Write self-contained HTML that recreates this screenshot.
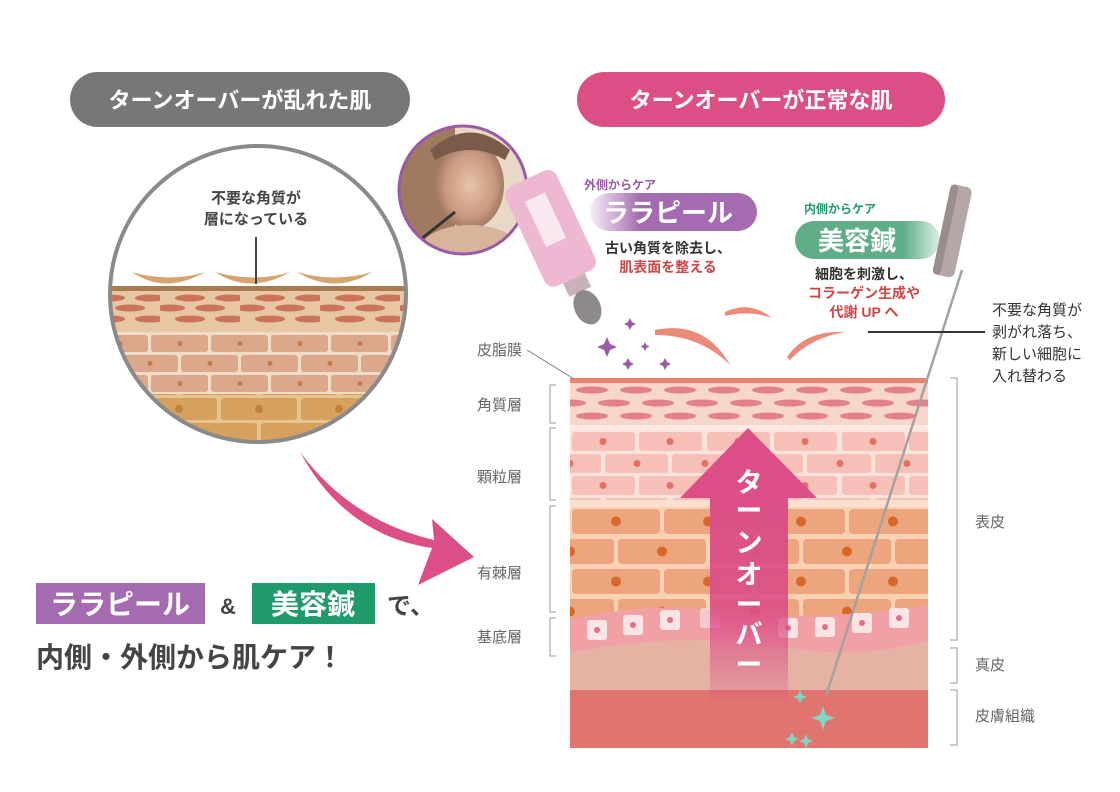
<!DOCTYPE html>
<html><head><meta charset="utf-8"><style>
html,body{margin:0;padding:0;background:#fff;}
svg{display:block;font-family:"Liberation Sans","Noto Sans CJK JP",sans-serif;}
</style></head><body>
<svg width="1120" height="792" viewBox="0 0 1120 792" xmlns="http://www.w3.org/2000/svg">
<defs>
  <!-- left circle patterns -->
  <pattern id="lEll" x="0" y="290" width="80" height="40" patternUnits="userSpaceOnUse">
    <rect width="80" height="40" fill="#e8c6a4"/>
    <ellipse cx="30" cy="8" rx="15" ry="3.5" fill="#c9745a"/>
    <ellipse cx="70" cy="8" rx="15" ry="3.5" fill="#c9745a"/>
    <ellipse cx="10" cy="18" rx="15" ry="3.5" fill="#c9745a"/>
    <ellipse cx="50" cy="18" rx="15" ry="3.5" fill="#c9745a"/>
    <ellipse cx="30" cy="29" rx="15" ry="3.5" fill="#c9745a"/>
    <ellipse cx="70" cy="29" rx="15" ry="3.5" fill="#c9745a"/>
  </pattern>
  <pattern id="lBrick" x="30" y="334" width="120" height="40" patternUnits="userSpaceOnUse">
    <rect width="120" height="40" fill="#f0dcc6"/>
    <rect x="1" y="1" width="57" height="17" rx="3" fill="#dba88c"/>
    <rect x="61" y="1" width="57" height="17" rx="3" fill="#dba88c"/>
    <rect x="-29" y="21" width="57" height="17" rx="3" fill="#dba88c"/>
    <rect x="31" y="21" width="57" height="17" rx="3" fill="#dba88c"/>
    <rect x="91" y="21" width="57" height="17" rx="3" fill="#dba88c"/>
    <circle cx="30" cy="9.5" r="2.5" fill="#c77a4a"/><circle cx="90" cy="9.5" r="2.5" fill="#c77a4a"/>
    <circle cx="0" cy="29.5" r="2.5" fill="#c77a4a"/><circle cx="60" cy="29.5" r="2.5" fill="#c77a4a"/><circle cx="120" cy="29.5" r="2.5" fill="#c77a4a"/>
  </pattern>
  <pattern id="lBrick2" x="60" y="396" width="160" height="50" patternUnits="userSpaceOnUse">
    <rect width="160" height="50" fill="#e6c48e"/>
    <rect x="1" y="2" width="76" height="22" rx="3" fill="#d6a05e"/>
    <rect x="81" y="2" width="76" height="22" rx="3" fill="#d6a05e"/>
    <rect x="-39" y="27" width="76" height="22" rx="3" fill="#d6a05e"/>
    <rect x="41" y="27" width="76" height="22" rx="3" fill="#d6a05e"/>
    <rect x="121" y="27" width="76" height="22" rx="3" fill="#d6a05e"/>
    <circle cx="39" cy="13" r="4" fill="#c0803a"/><circle cx="119" cy="13" r="4" fill="#c0803a"/>
  </pattern>
  <clipPath id="cc"><circle cx="258" cy="294" r="148"/></clipPath>

  <!-- right skin patterns -->
  <pattern id="rEll" x="570" y="383" width="88" height="42" patternUnits="userSpaceOnUse">
    <rect width="88" height="42" fill="#f7d6cc"/>
    <ellipse cx="22" cy="7" rx="16" ry="3.5" fill="#e4808a"/>
    <ellipse cx="66" cy="7" rx="16" ry="3.5" fill="#e4808a"/>
    <ellipse cx="0" cy="20" rx="16" ry="3.5" fill="#e4808a"/>
    <ellipse cx="44" cy="20" rx="16" ry="3.5" fill="#e4808a"/>
    <ellipse cx="88" cy="20" rx="16" ry="3.5" fill="#e4808a"/>
    <ellipse cx="22" cy="33" rx="16" ry="3.5" fill="#e4808a"/>
    <ellipse cx="66" cy="33" rx="16" ry="3.5" fill="#e4808a"/>
  </pattern>
  <pattern id="rGran" x="570" y="430" width="135" height="44" patternUnits="userSpaceOnUse">
    <rect width="135" height="44" fill="#fbe3dd"/>
    <rect x="2" y="2" width="63" height="19" rx="3" fill="#f6c0b8"/>
    <rect x="69" y="2" width="63" height="19" rx="3" fill="#f6c0b8"/>
    <rect x="-32" y="24" width="63" height="19" rx="3" fill="#f6c0b8"/>
    <rect x="35" y="24" width="63" height="19" rx="3" fill="#f6c0b8"/>
    <rect x="102" y="24" width="63" height="19" rx="3" fill="#f6c0b8"/>
    <circle cx="33" cy="11.5" r="3.5" fill="#e07366"/><circle cx="100" cy="11.5" r="3.5" fill="#e07366"/>
    <circle cx="0" cy="33.5" r="3.5" fill="#e07366"/><circle cx="67" cy="33.5" r="3.5" fill="#e07366"/><circle cx="135" cy="33.5" r="3.5" fill="#e07366"/>
  </pattern>
  <pattern id="rSpin" x="570" y="507" width="185" height="60" patternUnits="userSpaceOnUse">
    <rect width="185" height="60" fill="#f9d2b4"/>
    <rect x="2" y="2" width="88" height="25" rx="4" fill="#eda57e"/>
    <rect x="94" y="2" width="88" height="25" rx="4" fill="#eda57e"/>
    <rect x="-44" y="32" width="88" height="25" rx="4" fill="#eda57e"/>
    <rect x="48" y="32" width="88" height="25" rx="4" fill="#eda57e"/>
    <rect x="140" y="32" width="88" height="25" rx="4" fill="#eda57e"/>
    <circle cx="46" cy="14.5" r="5" fill="#d8672c"/><circle cx="138" cy="14.5" r="5" fill="#d8672c"/>
    <circle cx="0" cy="44.5" r="5" fill="#d8672c"/><circle cx="92" cy="44.5" r="5" fill="#d8672c"/><circle cx="185" cy="44.5" r="5" fill="#d8672c"/>
  </pattern>
  <clipPath id="skin"><rect x="570" y="378" width="358" height="370"/></clipPath>
  <linearGradient id="shaft" x1="0" y1="0" x2="0" y2="1">
    <stop offset="0" stop-color="#db4f86"/><stop offset="0.55" stop-color="#db4f86" stop-opacity="0.9"/><stop offset="1" stop-color="#db4f86" stop-opacity="0.15"/>
  </linearGradient>
  <linearGradient id="pp" x1="0" y1="0" x2="1" y2="0">
    <stop offset="0" stop-color="#a56bb0" stop-opacity="0.1"/><stop offset="0.3" stop-color="#a56bb0"/><stop offset="1" stop-color="#a56bb0"/>
  </linearGradient>
  <linearGradient id="gp" x1="0" y1="0" x2="1" y2="0">
    <stop offset="0" stop-color="#5fae88"/><stop offset="0.75" stop-color="#5fae88"/><stop offset="1" stop-color="#5fae88" stop-opacity="0.2"/>
  </linearGradient>
  <radialGradient id="face" cx="0.5" cy="0.5" r="0.6">
    <stop offset="0" stop-color="#e8c2a8"/><stop offset="0.6" stop-color="#c99a80"/><stop offset="1" stop-color="#8a6450"/>
  </radialGradient>
  <clipPath id="ph"><circle cx="463" cy="190" r="64"/></clipPath>
</defs>

<!-- header pills -->
<rect x="70" y="72" width="340" height="55" rx="27.5" fill="#777"/>
<text x="240" y="108" text-anchor="middle" font-size="22" font-weight="bold" fill="#fff">ターンオーバーが乱れた肌</text>
<rect x="577" y="72" width="368" height="55" rx="27.5" fill="#dc4f86"/>
<text x="761" y="108" text-anchor="middle" font-size="22" font-weight="bold" fill="#fff">ターンオーバーが正常な肌</text>

<!-- left circle -->
<circle cx="258" cy="294" r="148" fill="#fff"/>
<g clip-path="url(#cc)">
  <rect x="100" y="286" width="320" height="5" fill="#a87a52"/>
  <rect x="100" y="291" width="320" height="41" fill="url(#lEll)"/>
  <rect x="100" y="332" width="320" height="62" fill="url(#lBrick)"/>
  <rect x="100" y="394" width="320" height="60" fill="url(#lBrick2)"/>
</g>
<path d="M132 272 Q165 295 205 272 Q170 283 132 272Z" fill="#d6a46e"/>
<path d="M215 272 Q250 295 290 272 Q255 283 215 272Z" fill="#d6a46e"/>
<path d="M297 272 Q335 295 372 272 Q335 283 297 272Z" fill="#d6a46e"/>
<line x1="256" y1="237" x2="256" y2="284" stroke="#444" stroke-width="2"/>
<circle cx="258" cy="294" r="148" fill="none" stroke="#8a8a8a" stroke-width="4"/>
<text x="256" y="203" text-anchor="middle" font-size="15" font-weight="bold" fill="#444">不要な角質が</text>
<text x="256" y="224" text-anchor="middle" font-size="15" font-weight="bold" fill="#444">層になっている</text>

<!-- big curved arrow -->
<path d="M300 452 Q345 535 432 548 L418 585 L474 557 L432 519 L434 540 Q350 520 300 452Z" fill="#dc4f86"/>

<!-- bottom left text -->
<rect x="36" y="583" width="169" height="41" fill="#a56bb0"/>
<text x="120" y="614" text-anchor="middle" font-size="28" font-weight="bold" fill="#fff">ララピール</text>
<text x="228" y="614" text-anchor="middle" font-size="22" font-weight="bold" fill="#444">&amp;</text>
<rect x="252" y="583" width="123" height="41" fill="#1f9a6b"/>
<text x="313" y="614" text-anchor="middle" font-size="28" font-weight="bold" fill="#fff">美容鍼</text>
<text x="387" y="614" font-size="24" font-weight="bold" fill="#444">で、</text>
<text x="36" y="667" font-size="28" font-weight="bold" fill="#444">内側・外側から肌ケア！</text>

<!-- skin diagram -->
<g clip-path="url(#skin)">
  <rect x="570" y="378" width="358" height="5" fill="#ea8470"/>
  <rect x="570" y="383" width="358" height="42" fill="url(#rEll)"/>
  <rect x="570" y="425" width="358" height="5" fill="#fde9e4"/>
  <rect x="570" y="430" width="358" height="72" fill="url(#rGran)"/>
  <rect x="570" y="500" width="358" height="7" fill="#fbe0cf"/>
  <rect x="570" y="507" width="358" height="140" fill="url(#rSpin)"/>
  <path d="M570 620 Q650 600 730 612 Q820 622 928 605 L928 700 L570 700Z" fill="#f1a0a6"/>
  <path d="M570 652 Q700 630 790 648 Q860 660 928 640 L928 700 L570 700Z" fill="#e6b2a4"/>
  <g fill="#fbe4e6">
    <rect x="587" y="620" width="20" height="20" rx="3"/><rect x="623" y="615" width="20" height="20" rx="3"/>
    <rect x="660" y="610" width="20" height="20" rx="3"/><rect x="700" y="608" width="20" height="20" rx="3" opacity="0.6"/>
    <rect x="778" y="618" width="20" height="20" rx="3"/><rect x="815" y="617" width="20" height="20" rx="3"/>
    <rect x="852" y="613" width="20" height="20" rx="3"/><rect x="889" y="608" width="20" height="20" rx="3"/>
  </g>
  <g fill="#e56d80">
    <circle cx="597" cy="630" r="3"/><circle cx="633" cy="625" r="3"/><circle cx="670" cy="620" r="3"/>
    <circle cx="788" cy="628" r="3"/><circle cx="825" cy="627" r="3"/><circle cx="862" cy="623" r="3"/><circle cx="899" cy="618" r="3"/>
  </g>
  <rect x="570" y="690" width="358" height="58" fill="#e0756f"/>
  <!-- turnover arrow -->
  <rect x="710" y="496" width="78" height="206" fill="url(#shaft)"/>
  <polygon points="748,428 817,498 680,498" fill="#db4f86"/>
  <g font-size="27" font-weight="bold" fill="#fff" text-anchor="middle">
    <text x="749" y="492">タ</text><text x="749" y="520">ー</text><text x="749" y="552">ン</text>
    <text x="749" y="584">オ</text><text x="749" y="614">ー</text><text x="749" y="644">バ</text><text x="749" y="674">ー</text>
  </g>
</g>
<!-- sparkles bottom -->
<g fill="#7fd6c4">
  <path d="M823 706 l3 9 l9 3 l-9 3 l-3 9 l-3 -9 l-9 -3 l9 -3z"/>
  <path d="M800 690 l2 5 l5 2 l-5 2 l-2 5 l-2 -5 l-5 -2 l5 -2z"/>
  <path d="M792 732 l2 5 l5 2 l-5 2 l-2 5 l-2 -5 l-5 -2 l5 -2z"/>
  <path d="M806 734 l2 5 l5 2 l-5 2 l-2 5 l-2 -5 l-5 -2 l5 -2z"/>
</g>
<!-- needle -->
<line x1="962" y1="270" x2="826" y2="696" stroke="#a8a0a0" stroke-width="2.5"/>
<g transform="translate(962 186) rotate(12)">
  <rect x="-11" y="0" width="22" height="92" rx="6" fill="#b6a7a7"/>
  <rect x="-11" y="0" width="8" height="92" rx="4" fill="#9c8d8d"/>
</g>

<!-- left labels -->
<g font-size="15" fill="#666">
  <text x="477" y="355">皮脂膜</text>
  <text x="477" y="410">角質層</text>
  <text x="477" y="482">顆粒層</text>
  <text x="477" y="578">有棘層</text>
  <text x="477" y="642">基底層</text>
  <text x="975" y="527">表皮</text>
  <text x="975" y="670">真皮</text>
  <text x="975" y="721">皮膚組織</text>
</g>
<line x1="527" y1="350" x2="574" y2="379" stroke="#777" stroke-width="1"/>
<g fill="none" stroke="#bbb" stroke-width="1.5">
  <path d="M556 385 H550 V423 H556"/>
  <path d="M556 428 H550 V500 H556"/>
  <path d="M556 506 H550 V612 H556"/>
  <path d="M556 618 H550 V656 H556"/>
  <path d="M950 378 H957 V640 H950"/>
  <path d="M950 648 H957 V683 H950"/>
  <path d="M950 690 H957 V745 H950"/>
</g>

<!-- photo -->
<g clip-path="url(#ph)">
  <rect x="395" y="122" width="140" height="140" fill="#e9d8c6"/>
  <rect x="395" y="122" width="60" height="140" fill="#a07a60"/>
  <ellipse cx="470" cy="185" rx="34" ry="44" fill="url(#face)"/>
  <path d="M430 150 Q470 115 510 150 L505 160 Q470 140 435 160Z" fill="#7a5a48"/>
  <ellipse cx="470" cy="250" rx="50" ry="25" fill="#d9b49c"/>
  <line x1="420" y1="240" x2="455" y2="212" stroke="#333" stroke-width="3"/>
</g>
<circle cx="463" cy="190" r="64" fill="none" stroke="#9a5aa6" stroke-width="3"/>

<!-- bottle -->
<g transform="translate(557 242) rotate(-25)">
  <rect x="-28" y="-70" width="56" height="110" rx="10" fill="#efb8d2"/>
  <rect x="-12" y="-50" width="22" height="50" fill="#fbe9f1"/>
  <rect x="-12" y="40" width="24" height="15" fill="#c6b2b8"/>
  <ellipse cx="0" cy="72" rx="13" ry="18" fill="#8f8a8a"/>
</g>
<!-- purple sparkles -->
<g fill="#9a5aa6">
  <path d="M607 337 l3 7 l7 3 l-7 3 l-3 7 l-3 -7 l-7 -3 l7 -3z"/>
  <path d="M630 318 l2 4 l4 2 l-4 2 l-2 4 l-2 -4 l-4 -2 l4 -2z"/>
  <path d="M645 342 l1.5 3 l3 1.5 l-3 1.5 l-1.5 3 l-1.5 -3 l-3 -1.5 l3 -1.5z"/>
  <path d="M628 358 l2 4 l4 2 l-4 2 l-2 4 l-2 -4 l-4 -2 l4 -2z"/>
  <path d="M665 358 l2 4 l4 2 l-4 2 l-2 4 l-2 -4 l-4 -2 l4 -2z"/>
</g>
<!-- flakes -->
<g fill="#ec8a78">
  <path d="M655 330 Q705 320 730 365 Q700 335 655 335Z"/>
  <path d="M725 312 Q750 300 772 318 Q750 310 725 316Z"/>
  <path d="M787 357 Q805 330 845 332 Q810 338 790 360Z"/>
</g>
<line x1="868" y1="332" x2="985" y2="332" stroke="#333" stroke-width="2"/>

<!-- purple label -->
<text x="584" y="189" font-size="12" font-weight="bold" fill="#9a5aa6">外側からケア</text>
<rect x="590" y="193" width="167" height="38" rx="19" fill="url(#pp)"/>
<text x="668" y="222" text-anchor="middle" font-size="26" font-weight="bold" fill="#fff">ララピール</text>
<text x="668" y="253" text-anchor="middle" font-size="14" font-weight="bold" fill="#333">古い角質を除去し、</text>
<text x="668" y="272" text-anchor="middle" font-size="14" font-weight="bold" fill="#d04545">肌表面を整える</text>

<!-- green label -->
<text x="804" y="213" font-size="12" font-weight="bold" fill="#1f9a6b">内側からケア</text>
<rect x="795" y="221" width="145" height="38" rx="19" fill="url(#gp)"/>
<text x="857" y="250" text-anchor="middle" font-size="26" font-weight="bold" fill="#fff">美容鍼</text>
<text x="864" y="279" text-anchor="middle" font-size="14" font-weight="bold" fill="#333">細胞を刺激し、</text>
<text x="864" y="298" text-anchor="middle" font-size="14" font-weight="bold" fill="#d04545">コラーゲン生成や</text>
<text x="864" y="317" text-anchor="middle" font-size="14" font-weight="bold" fill="#d04545">代謝 UP へ</text>

<!-- right note -->
<g font-size="15" fill="#333">
  <text x="992" y="315">不要な角質が</text>
  <text x="992" y="337">剥がれ落ち、</text>
  <text x="992" y="359">新しい細胞に</text>
  <text x="992" y="381">入れ替わる</text>
</g>
</svg>
</body></html>
